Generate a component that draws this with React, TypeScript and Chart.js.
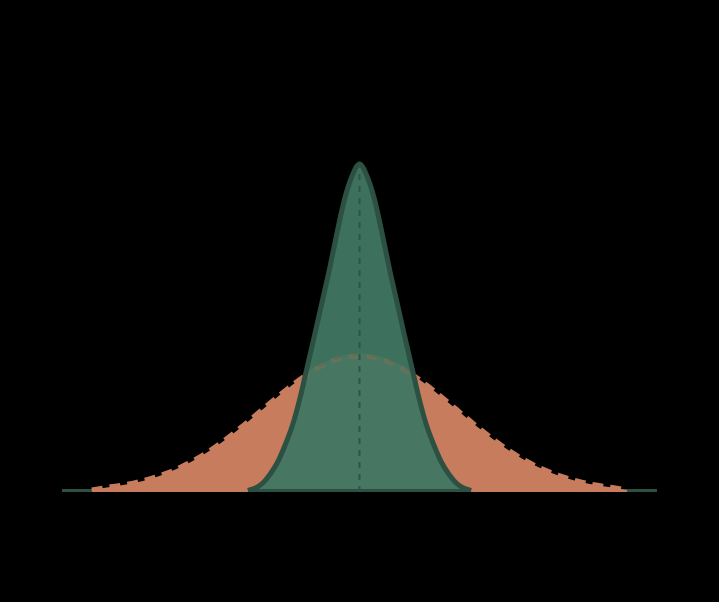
import React, { useEffect, useRef } from "react";
import { Chart, registerables } from "chart.js";

Chart.register(...registerables);

// wide (prior) curve, sampled every 0.5 on the x axis
const wideX = [
  -9, -8.5, -8, -7.5, -7, -6.5, -6, -5.5, -5, -4.5, -4, -3.5, -3, -2.5, -2, -1.5, -1, -0.5,
  0, 0.5, 1, 1.5, 2, 2.5, 3, 3.5, 4, 4.5, 5, 5.5, 6, 6.5, 7, 7.5, 8, 8.5, 9,
];
const wideY = [
  2, 4.5, 6.7, 9.6, 13.6, 18.6, 25, 32.7, 41.9, 52.6, 64.2, 76.5, 89.1, 101.3, 112.7, 122.3, 129.8, 134.4,
  136, 134.4, 129.8, 122.3, 112.7, 101.3, 89.1, 76.5, 64.2, 52.6, 41.9, 32.7, 25, 18.6, 13.6, 9.6, 6.7, 4.5, 2,
];

// narrow (posterior) curve, sampled every 0.25
const narrowX = [
  -3.75, -3.5, -3.25, -3, -2.75, -2.5, -2.25, -2, -1.75, -1.5, -1.25, -1, -0.75, -0.5, -0.25,
  0, 0.25, 0.5, 0.75, 1, 1.25, 1.5, 1.75, 2, 2.25, 2.5, 2.75, 3, 3.25, 3.5, 3.75,
];
const narrowY = [
  1.5, 4, 9, 18, 30, 47, 67, 94, 126, 158, 191, 224, 260, 293, 316,
  328, 316, 293, 260, 224, 191, 158, 126, 94, 67, 47, 30, 18, 9, 4, 1.5,
];

const axisRange = [-10, 10];
const centerX = 0;
const peakY = 328;

const ORANGE = "rgb(199,125,93)";
const ORANGE_FAINT = "rgba(170,110,70,0.3)";
const GREEN_FILL = "rgba(64,118,98,0.95)";
const GREEN_LINE = "rgb(44,80,66)";

const App: React.FC = () => {
  const canvasRef = useRef<HTMLCanvasElement | null>(null);

  useEffect(() => {
    if (!canvasRef.current) return;

    const wide = wideX.map((x, i) => ({ x, y: wideY[i] }));
    const narrow = narrowX.map((x, i) => ({ x, y: narrowY[i] }));
    // the part of the wide outline that sits under the green area
    const wideInner = wide.filter((p) => Math.abs(p.x) <= 2);
    const narrowEnds = [narrowX[0], narrowX[narrowX.length - 1]];

    const chart = new Chart(canvasRef.current, {
      type: "line",
      data: {
        datasets: [
          {
            // baseline
            data: axisRange.map((x) => ({ x, y: 0 })),
            borderColor: GREEN_LINE,
            borderWidth: 6,
            pointRadius: 0,
            fill: false,
            order: 8,
          },
          {
            data: wide,
            borderColor: ORANGE,
            backgroundColor: ORANGE,
            borderWidth: 5,
            borderDash: [11, 7],
            pointRadius: 0,
            cubicInterpolationMode: "monotone",
            fill: "origin",
            order: 7,
          },
          {
            data: narrow,
            borderColor: "transparent",
            backgroundColor: GREEN_FILL,
            borderWidth: 0,
            pointRadius: 0,
            cubicInterpolationMode: "monotone",
            fill: "origin",
            order: 6,
          },
          {
            data: wideInner,
            borderColor: ORANGE_FAINT,
            borderWidth: 5,
            borderDash: [11, 7],
            pointRadius: 0,
            cubicInterpolationMode: "monotone",
            fill: false,
            order: 5,
          },
          {
            // bottom edge of the green area
            data: narrowEnds.map((x) => ({ x, y: 0 })),
            borderColor: GREEN_LINE,
            borderWidth: 6,
            pointRadius: 0,
            fill: false,
            order: 4,
          },
          {
            data: narrow,
            borderColor: GREEN_LINE,
            borderWidth: 5,
            pointRadius: 0,
            cubicInterpolationMode: "monotone",
            fill: false,
            order: 3,
          },
          {
            // center marker
            data: [
              { x: centerX, y: 0 },
              { x: centerX, y: peakY },
            ],
            borderColor: "rgb(44,86,70)",
            borderWidth: 2,
            borderDash: [6, 6],
            pointRadius: 0,
            fill: false,
            order: 2,
          },
        ],
      },
      options: {
        responsive: false,
        animation: false,
        layout: { padding: { left: 62, right: 62, top: 92, bottom: 110 } },
        scales: {
          x: { type: "linear", min: axisRange[0], max: axisRange[1], display: false },
          y: { type: "linear", min: 0, max: 400, display: false },
        },
        plugins: {
          legend: { display: false },
          tooltip: { enabled: false },
        },
      },
    });

    return () => {
      chart.destroy();
    };
  }, []);

  return (
    <div style={{ position: "fixed", left: 0, top: 0, width: 719, height: 602, background: "#000" }}>
      <canvas ref={canvasRef} width={719} height={602} style={{ display: "block" }} />
    </div>
  );
};

export default App;
